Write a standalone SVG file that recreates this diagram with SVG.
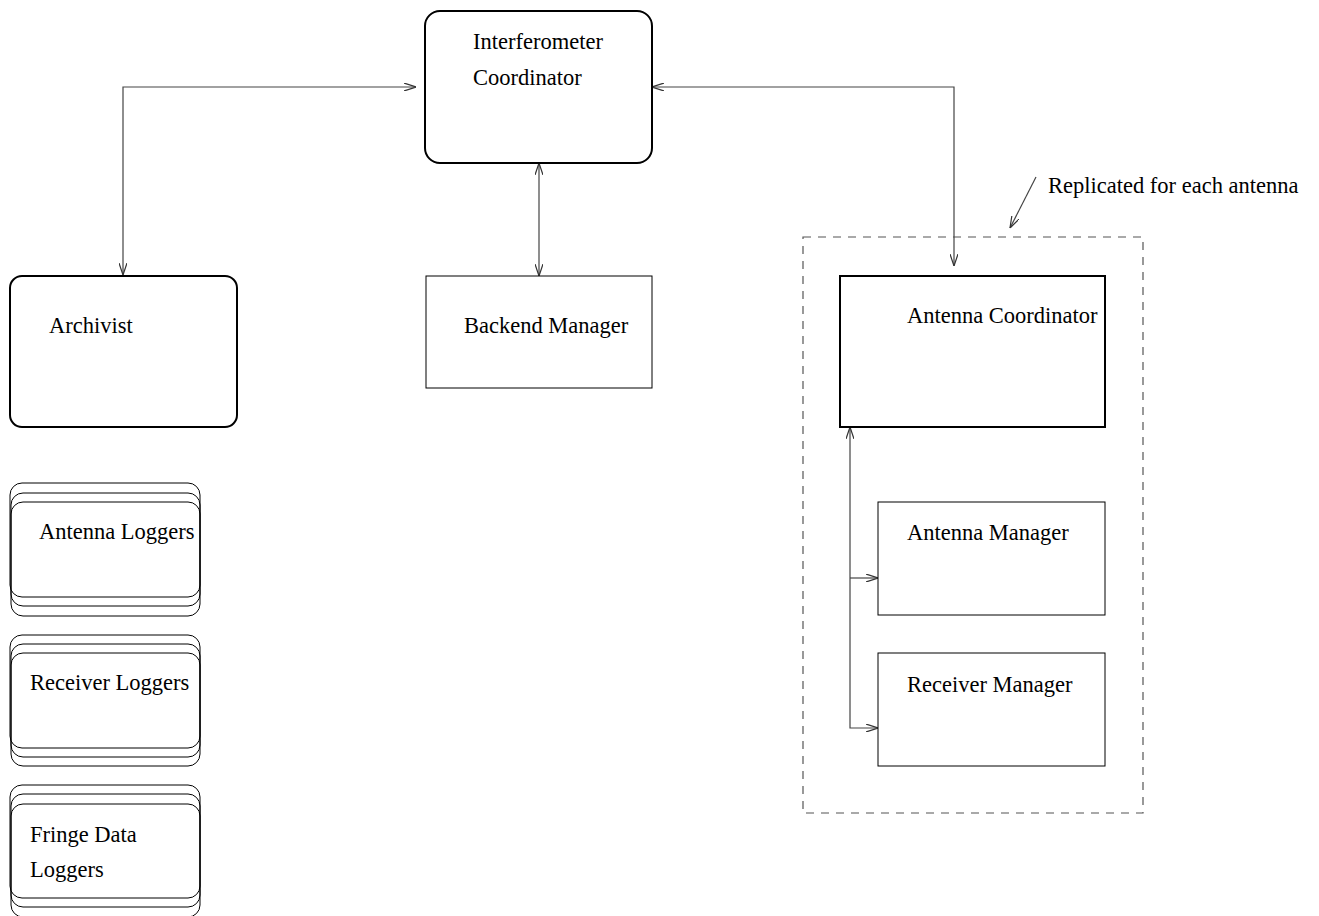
<svg xmlns="http://www.w3.org/2000/svg" width="1319" height="916" viewBox="0 0 1319 916">
<style>
.t{font-family:"Liberation Serif","Times New Roman",serif;font-size:22.5px;fill:#000}
.thick{fill:none;stroke:#000;stroke-width:2}
.thin{fill:none;stroke:#000;stroke-width:1}
.log{fill:none;stroke:#000;stroke-width:1}
.c{fill:none;stroke:#444;stroke-width:1.2}
.dash{fill:none;stroke:#555;stroke-width:1.2;stroke-dasharray:8 7}
</style>
<defs>
<marker id="a" viewBox="0 0 12 8" refX="12" refY="4" markerWidth="12" markerHeight="8" markerUnits="userSpaceOnUse" orient="auto-start-reverse">
<path d="M0,0 L12,4 L0,8" fill="none" stroke="#333" stroke-width="1.2"/>
</marker>
</defs>
<rect class="dash" x="803" y="237" width="340" height="576"/>
<g id="connectors">
<path class="c" d="M123,275 L123,87 L416,87" marker-start="url(#a)" marker-end="url(#a)"/>
<path class="c" d="M652,87 L954,87 L954,266" marker-start="url(#a)" marker-end="url(#a)"/>
<path class="c" d="M539,163 L539,276" marker-start="url(#a)" marker-end="url(#a)"/>
<path class="c" d="M878,728 L850,728 L850,427" marker-start="url(#a)" marker-end="url(#a)"/>
<path class="c" d="M850,578 L878,578" marker-end="url(#a)"/>
<path class="c" d="M1036,177 L1010,228" marker-end="url(#a)"/>
</g>
<g id="interferometer-coordinator">
<rect class="thick" x="425" y="11" width="227" height="152" rx="15"/>
<text class="t" x="473" y="49">Interferometer</text>
<text class="t" x="473" y="85">Coordinator</text>
</g>
<g id="backend-manager">
<rect class="thin" x="426" y="276" width="226" height="112"/>
<text class="t" x="464" y="333">Backend Manager</text>
</g>
<g id="archivist">
<rect class="thick" x="10" y="276" width="227" height="151" rx="12"/>
<text class="t" x="49" y="333">Archivist</text>
</g>
<g id="antenna-loggers">
<rect class="log" x="10" y="483" width="190" height="114" rx="12"/>
<rect class="log" x="11" y="493" width="189" height="113" rx="12"/>
<rect class="log" x="11" y="502" width="189" height="114" rx="12"/>
<text class="t" x="39" y="539">Antenna Loggers</text>
</g>
<g id="receiver-loggers">
<rect class="log" x="10" y="635" width="190" height="113" rx="12"/>
<rect class="log" x="11" y="644" width="189" height="113" rx="12"/>
<rect class="log" x="11" y="653" width="189" height="113" rx="12"/>
<text class="t" x="30" y="690">Receiver Loggers</text>
</g>
<g id="fringe-data-loggers">
<rect class="log" x="10" y="785" width="190" height="113" rx="12"/>
<rect class="log" x="11" y="794" width="189" height="113" rx="12"/>
<rect class="log" x="11" y="804" width="189" height="113" rx="12"/>
<text class="t" x="30" y="842">Fringe Data</text>
<text class="t" x="30" y="877">Loggers</text>
</g>
<g id="antenna-coordinator">
<rect class="thick" x="840" y="276" width="265" height="151"/>
<text class="t" x="907" y="323">Antenna Coordinator</text>
</g>
<g id="antenna-manager">
<rect class="thin" x="878" y="502" width="227" height="113"/>
<text class="t" x="907" y="540">Antenna Manager</text>
</g>
<g id="receiver-manager">
<rect class="thin" x="878" y="653" width="227" height="113"/>
<text class="t" x="907" y="692">Receiver Manager</text>
</g>
<g id="replicated-note">
<text class="t" x="1048" y="193">Replicated for each antenna</text>
</g>
</svg>
